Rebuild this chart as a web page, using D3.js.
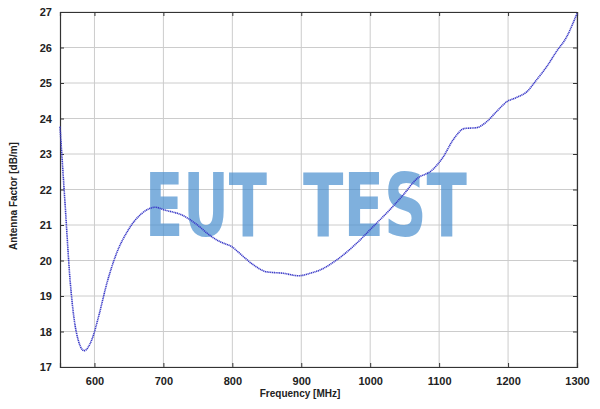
<!DOCTYPE html>
<html><head><meta charset="utf-8">
<script src="https://cdn.jsdelivr.net/npm/d3@7"></script>
<style>body{margin:0;background:#fff}svg{display:block}</style>
</head><body>
<svg id="c" width="600" height="409"></svg>
<script>
const freq = [550,557,565,574,585,596,606,618,632,649,669,688,702,727,746,770,782,799,816,831,850,874,896,913,927,951,980,1004,1028,1048,1067,1090,1106,1120,1137,1154,1169,1183,1198,1212,1227,1241,1256,1270,1285,1300];
const af   = [23.77,21.7,19.36,17.95,17.46,17.76,18.42,19.36,20.2,20.86,21.33,21.5,21.42,21.28,21.05,20.67,20.53,20.39,20.11,19.87,19.68,19.64,19.57,19.64,19.73,20.01,20.48,20.95,21.42,21.85,22.29,22.55,22.92,23.39,23.72,23.74,23.91,24.19,24.47,24.59,24.75,25.08,25.46,25.88,26.3,26.96];
const xTicks = [600,700,800,900,1000,1100,1200,1300];
const yTicks = [17,18,19,20,21,22,23,24,25,26,27];
const xLabel = "Frequency [MHz]";
const yLabel = "Antenna Factor [dB/m]";
const watermark = ["EUT","TEST"];

const svg = d3.select("#c");
const m = {l:60,r:577,t:12,b:367};
const x = d3.scaleLinear().domain([550,1300]).range([m.l,m.r]);
const y = d3.scaleLinear().domain([17,27]).range([m.b,m.t]);

// grid
const g = svg.append("g");
g.selectAll(".gx").data(xTicks).join("line")
  .attr("x1",d=>x(d)).attr("x2",d=>x(d)).attr("y1",m.t).attr("y2",m.b)
  .attr("stroke","#cccccc").attr("stroke-width",1);
g.selectAll(".gy").data(yTicks).join("line")
  .attr("x1",m.l).attr("x2",m.r).attr("y1",d=>y(d)).attr("y2",d=>y(d))
  .attr("stroke","#cccccc").attr("stroke-width",1);

// watermark
const wm = svg.append("g").attr("fill","#4a90d0").attr("opacity",0.7)
  .style("font-family","'DejaVu Sans Condensed','DejaVu Sans',sans-serif").style("font-weight","bold").style("font-size","88px");
wm.append("text").attr("x",145).attr("y",236).attr("textLength",122).attr("lengthAdjust","spacingAndGlyphs").text(watermark[0]);
wm.append("text").attr("x",303).attr("y",236).attr("textLength",164).attr("lengthAdjust","spacingAndGlyphs").text(watermark[1]);

// axes
const fontStyle = s => s.style("font-family","'Liberation Sans',Arial,sans-serif").style("font-weight","bold").style("font-size","11px").attr("fill","#222");
const xa = svg.append("g").attr("transform",`translate(0,${m.b})`)
  .call(d3.axisBottom(x).tickValues(xTicks).tickSize(-4).tickPadding(10).tickFormat(d3.format("d")));
xa.selectAll("text").call(fontStyle);
const xa2 = svg.append("g").attr("transform",`translate(0,${m.t})`)
  .call(d3.axisTop(x).tickValues(xTicks).tickSize(-4).tickFormat(""));
const ya = svg.append("g").attr("transform",`translate(${m.l},0)`)
  .call(d3.axisLeft(y).tickValues(yTicks).tickSize(-4).tickPadding(8).tickFormat(d3.format("d")));
ya.selectAll("text").call(fontStyle);
const ya2 = svg.append("g").attr("transform",`translate(${m.r},0)`)
  .call(d3.axisRight(y).tickValues(yTicks).tickSize(-4).tickFormat(""));
[xa,xa2,ya,ya2].forEach(a=>{a.select(".domain").attr("stroke","#333").attr("stroke-width",1.2);a.selectAll(".tick line").attr("stroke","#333");});

// line
const line = d3.line().x((d,i)=>x(freq[i])).y(d=>y(d)).curve(d3.curveMonotoneX);
svg.append("path").datum(af).attr("d",line).attr("fill","none")
  .attr("stroke","#3b3bc8").attr("stroke-width",1.6).attr("stroke-dasharray","1.2,0.6");

// labels
svg.append("text").attr("x",300).attr("y",397).attr("text-anchor","middle")
  .style("font-family","'Liberation Sans',Arial,sans-serif").style("font-weight","bold").style("font-size","10px").attr("fill","#222").text(xLabel);
svg.append("text").attr("transform","translate(17,196) rotate(-90)").attr("text-anchor","middle")
  .style("font-family","'Liberation Sans',Arial,sans-serif").style("font-weight","bold").style("font-size","10px").attr("fill","#222").text(yLabel);
</script>
</body></html>
